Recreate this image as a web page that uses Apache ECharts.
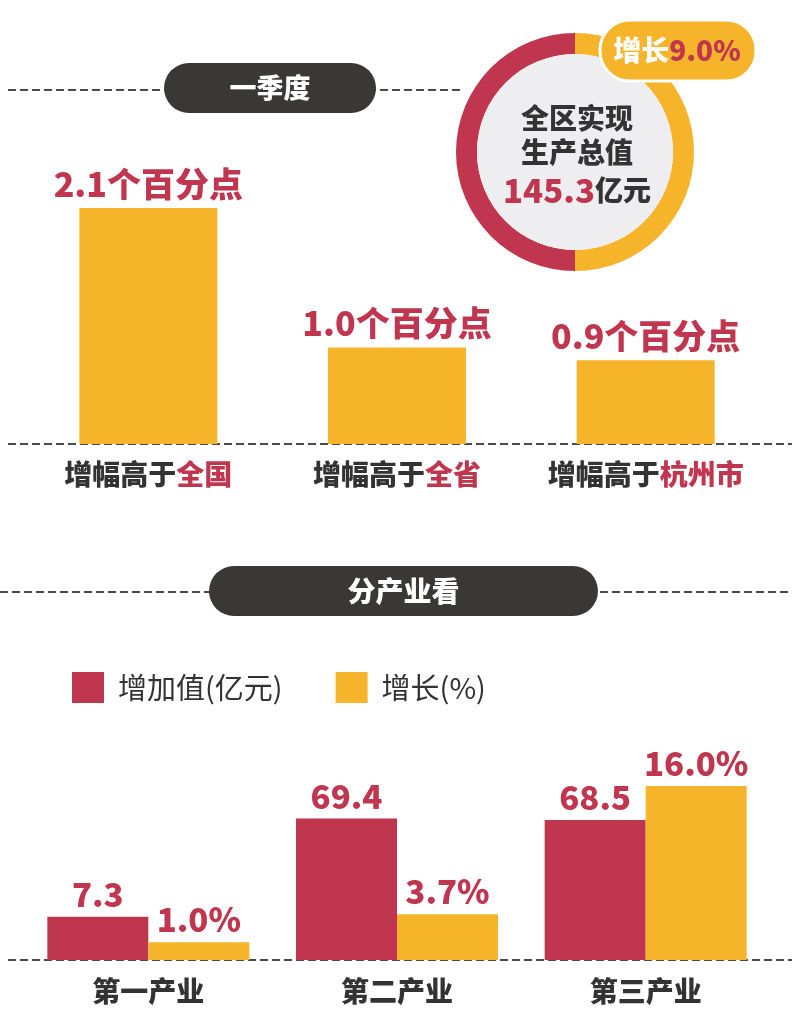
<!DOCTYPE html>
<html><head><meta charset="utf-8">
<script src="https://cdn.jsdelivr.net/npm/echarts@6/dist/echarts.min.js"></script>
<style>html,body{margin:0;padding:0;background:#fff}#c{width:792px;height:1033px}</style>
</head><body><div id="c"></div>
<script>
// ---- data ----
const topPrefix = '增幅高于';
const topHighlight = ['全国', '全省', '杭州市'];
const topCategories = ['增幅高于全国', '增幅高于全省', '增幅高于杭州市'];
const topValues = [2.1, 1.0, 0.9];
const topUnit = '个百分点';
const ringNames = ['增长', '其余'];
const ringValues = [50, 50];
const totalLabel = ['全区实现', '生产总值'];
const totalValue = 145.3;
const totalUnit = '亿元';
const growthRate = 9.0;
const headers = ['一季度', '分产业看'];
const industries = ['第一产业', '第二产业', '第三产业'];
const seriesNames = ['增加值(亿元)', '增长(%)'];
const addedValue = [7.3, 69.4, 68.5];
const growthValues = [1.0, 3.7, 16.0];

// ---- style ----
const RED = '#c1364f', YEL = '#f6b42a', DARK = '#333333', PILL = '#3a3737';
const FONT = '"Noto Sans CJK SC", "Noto Sans", sans-serif';

const chart = echarts.init(document.getElementById('c'), null, {renderer: 'canvas'});

function dash(x1, y1, x2, y2) {
  return {type: 'line', shape: {x1, y1, x2, y2}, z: 1,
    style: {stroke: '#4a4a4a', lineWidth: 2, lineDash: [8, 4]}};
}
function pill(x, y, w, h, text, fs) {
  return [
    {type: 'rect', shape: {x, y, width: w, height: h, r: h / 2}, z: 5, style: {fill: PILL}},
    {type: 'text', x: x + w / 2, y: y + h / 2, z: 6,
      style: {text, fill: '#fff', font: `900 ${fs}px ${FONT}`, align: 'center', verticalAlign: 'middle'}}
  ];
}

const option = {
  backgroundColor: '#fff',
  animation: false,
  textStyle: {fontFamily: FONT},
  legend: {
    data: seriesNames, left: 72, top: 672, padding: 0, itemWidth: 32, itemHeight: 31, itemGap: 53,
    icon: 'rect', selectedMode: false,
    textStyle: {fontSize: 29, color: DARK, fontFamily: FONT, padding: [0, 0, 0, 9]}
  },
  grid: [
    {left: 24, width: 746, top: 208, height: 236},
    {left: 24, width: 746, top: 786, height: 174}
  ],
  xAxis: [
    {gridIndex: 0, type: 'category', data: topCategories,
      axisLine: {show: false}, axisTick: {show: false},
      axisLabel: {margin: 16, interval: 0,
        formatter: (v, i) => `{d|${topPrefix}}{r|${topHighlight[i]}}`,
        rich: {
          d: {fontSize: 28, fontWeight: 900, color: DARK, fontFamily: FONT},
          r: {fontSize: 28, fontWeight: 900, color: RED, fontFamily: FONT}
        }}},
    {gridIndex: 1, type: 'category', data: industries,
      axisLine: {show: false}, axisTick: {show: false},
      axisLabel: {margin: 17, interval: 0, fontSize: 28, fontWeight: 900, color: DARK, fontFamily: FONT}}
  ],
  yAxis: [
    {gridIndex: 0, type: 'value', min: 0.24, max: 2.1, startValue: 0.24, show: false},
    {gridIndex: 1, type: 'value', min: -20, max: 90, startValue: -20, show: false},
    {gridIndex: 1, type: 'value', min: -0.7, max: 16, startValue: -0.7, show: false}
  ],
  series: [
    {type: 'bar', xAxisIndex: 0, yAxisIndex: 0, data: topValues, barWidth: 138,
      itemStyle: {color: YEL}, silent: true,
      label: {show: true, position: 'top', distance: 7, color: RED, fontSize: 34, fontWeight: 900, fontFamily: FONT,
        formatter: p => p.value.toFixed(1) + topUnit}},
    {type: 'bar', name: seriesNames[0], xAxisIndex: 1, yAxisIndex: 1, data: addedValue, barWidth: 101, barGap: '0%',
      itemStyle: {color: RED}, silent: true,
      label: {show: true, position: 'top', distance: 6, color: RED, fontSize: 33, fontWeight: 900, fontFamily: FONT,
        formatter: p => p.value.toFixed(1)}},
    {type: 'bar', name: seriesNames[1], xAxisIndex: 1, yAxisIndex: 2, data: growthValues, barWidth: 101, barGap: '0%',
      itemStyle: {color: YEL}, silent: true,
      label: {show: true, position: 'top', distance: 6, color: RED, fontSize: 33, fontWeight: 900, fontFamily: FONT,
        formatter: p => p.value.toFixed(1) + '%'}},
    {type: 'pie', center: [575, 152], radius: [98, 119], startAngle: 90, clockwise: true, silent: true,
      label: {show: false}, labelLine: {show: false},
      data: [
        {name: ringNames[0], value: ringValues[0], itemStyle: {color: YEL}},
        {name: ringNames[1], value: ringValues[1], itemStyle: {color: RED}}
      ]}
  ],
  graphic: [
    dash(8, 90, 460, 90),
    dash(8, 444, 792, 444),
    dash(0, 592, 792, 592),
    dash(8, 960, 792, 960),
    ...pill(164, 63, 212, 50, headers[0], 27),
    ...pill(209, 566, 389, 50, headers[1], 28),
    {type: 'circle', shape: {cx: 575, cy: 152, r: 98}, z: 3, style: {fill: '#eeeef0'}},
    {type: 'text', x: 577, y: 118, z: 6,
      style: {text: totalLabel[0], fill: DARK, font: `900 28px ${FONT}`, align: 'center', verticalAlign: 'middle'}},
    {type: 'text', x: 577, y: 152, z: 6,
      style: {text: totalLabel[1], fill: DARK, font: `900 28px ${FONT}`, align: 'center', verticalAlign: 'middle'}},
    {type: 'text', x: 577, y: 190, z: 6,
      style: {text: `{r|${totalValue.toFixed(1)}}{d|${totalUnit}}`, align: 'center', verticalAlign: 'middle',
        rich: {
          r: {fill: RED, fontSize: 33, fontWeight: 900, fontFamily: FONT},
          d: {fill: DARK, fontSize: 28, fontWeight: 900, fontFamily: FONT}
        }}},
    {type: 'rect', shape: {x: 600, y: 20, width: 156, height: 61, r: 30}, z: 10,
      style: {fill: YEL, stroke: '#fff', lineWidth: 3}},
    {type: 'text', x: 677, y: 50, z: 11,
      style: {text: `{w|${ringNames[0]}}{r|${growthRate.toFixed(1)}%}`, align: 'center', verticalAlign: 'middle',
        rich: {
          w: {fill: '#fff', fontSize: 28, fontWeight: 900, fontFamily: FONT},
          r: {fill: RED, fontSize: 28, fontWeight: 900, fontFamily: FONT}
        }}}
  ]
};
chart.setOption(option);
</script>
</body></html>
